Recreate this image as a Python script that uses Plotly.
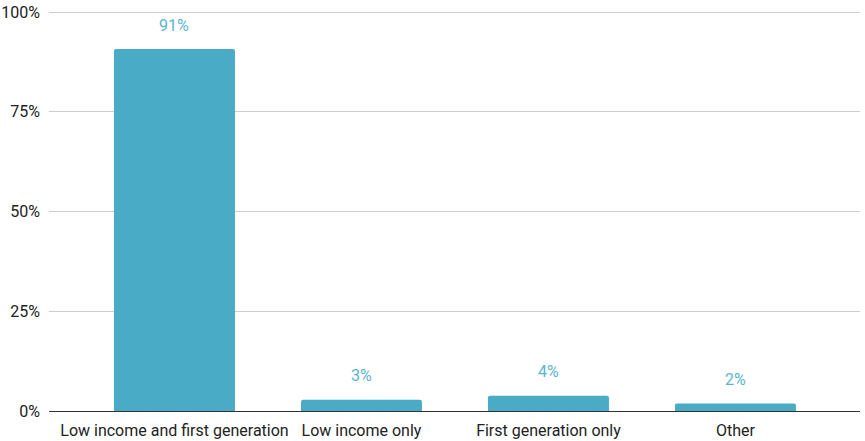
import plotly.graph_objects as go

categories = ["Low income and first generation", "Low income only", "First generation only", "Other"]
values = [90.7, 2.8, 3.8, 1.9]
value_labels = ["91%", "3%", "4%", "2%"]
tick_vals = [0, 25, 50, 75, 100]
tick_text = ["0%", "25%", "50%", "75%", "100%"]

bar_color = "#4aabc6"
label_color = "#5ab5cd"

fig = go.Figure()
fig.add_trace(go.Bar(
    x=list(range(len(categories))),
    y=values,
    width=0.647,
    marker=dict(color=bar_color, line=dict(width=0), cornerradius=2),
    hoverinfo="skip",
))

for i, (v, t) in enumerate(zip(values, value_labels)):
    fig.add_annotation(x=i, y=v, text=t, showarrow=False, yanchor="middle",
                       yshift=24, font=dict(family="Roboto", size=16, color=label_color))

fig.update_layout(
    width=865, height=441,
    margin=dict(l=49, r=5, t=10, b=30, autoexpand=False),
    paper_bgcolor="white", plot_bgcolor="white",
    font=dict(family="Roboto", size=16, color="#333333"),
    showlegend=False,
    xaxis=dict(
        range=[-0.671, 3.666],
        tickmode="array",
        tickvals=list(range(len(categories))),
        ticktext=categories,
        showgrid=False, zeroline=False, showline=False,
        ticks="", tickfont=dict(size=16, color="#222222"),
        ticklabelstandoff=8,
        ticklabeloverflow="allow",
        automargin=False,
        fixedrange=True,
    ),
    yaxis=dict(
        range=[0, 100.5],
        tickmode="array",
        tickvals=tick_vals,
        ticktext=tick_text,
        showgrid=True, gridcolor="#cccccc", gridwidth=1,
        zeroline=True, zerolinecolor="#333333", zerolinewidth=1,
        showline=False, ticks="",
        tickfont=dict(size=16, color="#222222"),
        ticklabelstandoff=8,
        ticklabeloverflow="allow",
        automargin=False,
        fixedrange=True,
    ),
)

fig.write_html(
    "out.html",
    config={"displayModeBar": False, "staticPlot": True},
    post_script="document.body.style.margin='0';document.body.style.overflow='hidden';",
)
